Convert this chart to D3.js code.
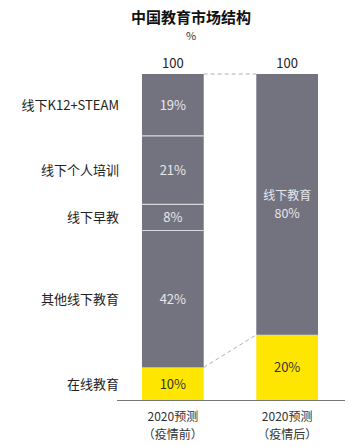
<!DOCTYPE html>
<html>
<head>
<meta charset="utf-8">
<script src="https://cdn.jsdelivr.net/npm/d3@7/dist/d3.min.js"></script>
<style>
    body { margin: 0; background: #fff; }
    text { font-family: "Noto Sans CJK SC", "Noto Sans", sans-serif; }
</style>
</head>
<body>
<div id="chart"></div>
<script>
"use strict";

// data
var categories = ["2020预测\n（疫情前）", "2020预测\n（疫情后）"];
var totals = [100, 100];
var beforeSegments = ["在线教育", "其他线下教育", "线下早教", "线下个人培训", "线下K12+STEAM"];
var beforeValues = [10, 42, 8, 21, 19];
var afterSegments = ["在线教育", "线下教育"];
var afterValues = [20, 80];

var width = 351;
var height = 447;
var gray = "#737380";
var yellow = "#ffe600";

var svg = d3.select("#chart").append("svg")
    .attr("width", width)
    .attr("height", height);

var x = d3.scaleBand()
    .domain(categories)
    .range([142, 318])
    .paddingInner(0.46)
    .paddingOuter(0);

var y = d3.scaleLinear()
    .domain([0, 100])
    .range([400, 74]);

var stackUp = function (names, values) {
    var acc = 0;
    return names.map(function (name, i) {
        var d = { name: name, value: values[i], y0: acc, y1: acc + values[i] };
        acc += values[i];
        return d;
    });
};

var columns = [
    { category: categories[0], segments: stackUp(beforeSegments, beforeValues) },
    { category: categories[1], segments: stackUp(afterSegments, afterValues) }
];

// title
svg.append("text")
    .attr("x", 191).attr("y", 23)
    .attr("text-anchor", "middle")
    .style("font-size", "15px").style("font-weight", "bold")
    .attr("fill", "#111")
    .text("中国教育市场结构");
svg.append("text")
    .attr("x", 191).attr("y", 40)
    .attr("text-anchor", "middle")
    .style("font-size", "11px")
    .attr("fill", "#333")
    .text("%");

// connector dashed lines
var bw = x.bandwidth();
var connectors = [
    [x(categories[0]) + bw, y(totals[0]), x(categories[1]), y(totals[1])],
    [x(categories[0]) + bw, y(beforeValues[0]), x(categories[1]), y(afterValues[0])]
];
svg.selectAll(".connector").data(connectors).enter().append("line")
    .attr("class", "connector")
    .attr("x1", function (d) { return d[0]; })
    .attr("y1", function (d) { return d[1]; })
    .attr("x2", function (d) { return d[2]; })
    .attr("y2", function (d) { return d[3]; })
    .attr("stroke", "#b0b0b0")
    .attr("stroke-width", 1)
    .attr("stroke-dasharray", "4,3");

// bars
var col = svg.selectAll(".column").data(columns).enter().append("g")
    .attr("class", "column")
    .attr("transform", function (d) { return "translate(" + x(d.category) + ",0)"; });

col.selectAll("rect").data(function (d) { return d.segments; }).enter().append("rect")
    .attr("x", 0)
    .attr("width", bw)
    .attr("y", function (d) { return y(d.y1); })
    .attr("height", function (d) { return y(d.y0) - y(d.y1); })
    .attr("fill", function (d) { return d.name === "在线教育" ? yellow : gray; });

// thin separators between gray segments
col.selectAll(".sep").data(function (d) {
    return d.segments.filter(function (s, i) { return i > 1; });
}).enter().append("line")
    .attr("class", "sep")
    .attr("x1", 0).attr("x2", bw)
    .attr("y1", function (d) { return y(d.y0); })
    .attr("y2", function (d) { return y(d.y0); })
    .attr("stroke", "#d8d8dc")
    .attr("stroke-width", 1.2);

// values inside bars
col.each(function (c, ci) {
    var g = d3.select(this);
    c.segments.forEach(function (s) {
        var cy = (y(s.y0) + y(s.y1)) / 2;
        var fill = s.name === "在线教育" ? "#333" : "#e6e6ea";
        if (ci === 1 && s.name !== "在线教育") {
            g.append("text")
                .attr("x", bw / 2).attr("y", cy - 4)
                .attr("text-anchor", "middle")
                .style("font-size", "12px").attr("fill", fill)
                .text(s.name);
            g.append("text")
                .attr("x", bw / 2).attr("y", cy + 14)
                .attr("text-anchor", "middle")
                .style("font-size", "12.5px").attr("fill", fill)
                .text(s.value + "%");
        } else {
            g.append("text")
                .attr("x", bw / 2).attr("y", cy + 5)
                .attr("text-anchor", "middle")
                .style("font-size", "13px").attr("fill", fill)
                .text(s.value + "%");
        }
    });
    g.append("text")
        .attr("x", bw / 2).attr("y", y(totals[ci]) - 6)
        .attr("text-anchor", "middle")
        .style("font-size", "13px").attr("fill", "#222")
        .text(totals[ci]);
});

// left segment labels
svg.selectAll(".seg-label").data(columns[0].segments).enter().append("text")
    .attr("class", "seg-label")
    .attr("x", 119)
    .attr("y", function (d) { return (y(d.y0) + y(d.y1)) / 2 + 5; })
    .attr("text-anchor", "end")
    .style("font-size", "13px")
    .attr("fill", "#222")
    .text(function (d) { return d.name; });

// baseline
svg.append("line")
    .attr("x1", 117).attr("x2", 345)
    .attr("y1", y(0) + 0.5).attr("y2", y(0) + 0.5)
    .attr("stroke", "#777").attr("stroke-width", 1);

// category labels
var xLabels = svg.selectAll(".x-label").data(categories).enter().append("text")
    .attr("class", "x-label")
    .attr("text-anchor", "middle")
    .style("font-size", "12px")
    .attr("fill", "#333");
xLabels.selectAll("tspan").data(function (d) {
    return d.split("\n").map(function (t) { return { t: t, c: d }; });
}).enter().append("tspan")
    .attr("x", function (d) { return x(d.c) + bw / 2; })
    .attr("y", function (d, i) { return 421 + i * 18; })
    .text(function (d) { return d.t; });
</script>
</body>
</html>
